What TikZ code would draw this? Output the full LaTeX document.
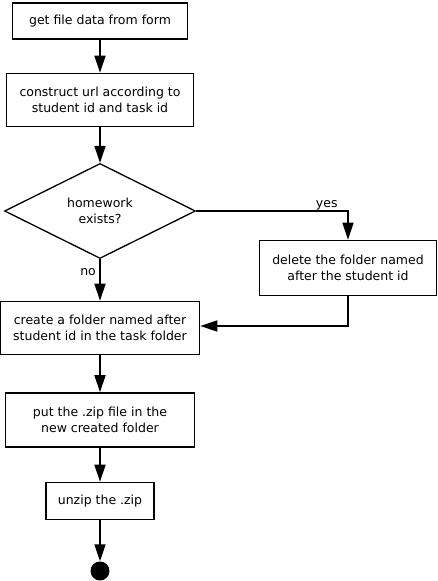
\documentclass[tikz,border=0pt]{standalone}
\usepackage{fontspec}
\setmainfont{DejaVu Sans}
\usetikzlibrary{shapes.geometric,arrows.meta}
\begin{document}
\begin{tikzpicture}[
  block/.style={rectangle, draw, line width=1.6pt, align=center, inner sep=0pt},
  decision/.style={diamond, draw, line width=1.3pt, align=center, inner sep=0pt, minimum width=191pt, minimum height=95pt},
  flow/.style={-{Triangle[length=17pt,width=11pt]}, line width=1.6pt},
  font=\fontsize{12.5}{16}\selectfont
]
\useasboundingbox (0,0) rectangle (438pt,-581pt);
\node[block, minimum width=175pt, minimum height=36pt] (getdata) at (100pt,-21pt) {get file data from form};
\node[block, below of=getdata, node distance=79pt, minimum width=187pt, minimum height=53pt] (url) {construct url according to\\student id and task id};
\node[decision, below of=url, node distance=111pt] (exists) {homework\\exists?};
\node[block, minimum width=177pt, minimum height=55pt] (delete) at (348pt,-268pt) {delete the folder named\\after the student id};
\node[block, below of=exists, node distance=117pt, minimum width=199pt, minimum height=53pt] (create) {create a folder named after\\student id in the task folder};
\node[block, below of=create, node distance=92pt, minimum width=189pt, minimum height=54pt] (putzip) {put the .zip file in the\\new created folder};
\node[block, below of=putzip, node distance=81pt, minimum width=108pt, minimum height=37pt] (unzip) {unzip the .zip};
\node[circle, fill, inner sep=0pt, minimum size=19pt, below of=unzip, node distance=70pt] (stop) {};

\draw[flow] (getdata) -- (url);
\draw[flow] (url) -- (exists);
\draw[flow] (exists.east) -| node[pos=0.43, above, inner sep=0pt] {yes} (delete.north);
\draw[flow] (exists) -- node[pos=0.3, left] {no} (create);
\draw[flow] (delete.south) |- ([yshift=2pt]create.east);
\draw[flow] (create) -- (putzip);
\draw[flow] (putzip) -- (unzip);
\draw[flow] (unzip) -- (stop);
\end{tikzpicture}
\end{document}
